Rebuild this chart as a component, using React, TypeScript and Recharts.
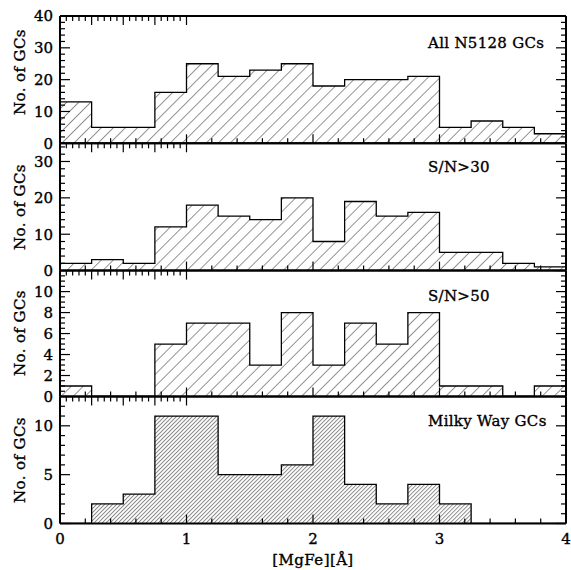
import React from 'react';
import { ComposedChart, Area, XAxis, YAxis } from 'recharts';

// Bin edges of [MgFe] (Å), bin width 0.25
const binEdges = [0, 0.25, 0.5, 0.75, 1, 1.25, 1.5, 1.75, 2, 2.25, 2.5, 2.75, 3, 3.25, 3.5, 3.75, 4];

// Counts per bin
const allN5128 = [13, 5, 5, 16, 25, 21, 23, 25, 18, 20, 20, 21, 5, 7, 5, 3];
const sn30 = [2, 3, 2, 12, 18, 15, 14, 20, 8, 19, 15, 16, 5, 5, 2, 1];
const sn50 = [1, 0, 0, 5, 7, 7, 3, 8, 3, 7, 5, 8, 1, 1, 0, 1];
const milkyWay = [0, 2, 3, 11, 11, 5, 5, 6, 11, 4, 2, 4, 2, 0, 0, 0];

const panelTitles = ['All N5128 GCs', 'S/N>30', 'S/N>50', 'Milky Way GCs'];

const xTicks = [0, 0.2, 0.4, 0.6, 0.8, 1, 1.2, 1.4, 1.6, 1.8, 2, 2.2, 2.4, 2.6, 2.8, 3, 3.2, 3.4, 3.6, 3.8, 4];
const yTicks1 = [0, 2, 4, 6, 8, 10, 12, 14, 16, 18, 20, 22, 24, 26, 28, 30, 32, 34, 36, 38, 40];
const yTicks2 = [0, 2, 4, 6, 8, 10, 12, 14, 16, 18, 20, 22, 24, 26, 28, 30, 32, 34];
const yTicks3 = [0, 0.5, 1, 1.5, 2, 2.5, 3, 3.5, 4, 4.5, 5, 5.5, 6, 6.5, 7, 7.5, 8, 8.5, 9, 9.5, 10, 10.5, 11, 11.5];
const yTicks4 = [0, 1, 2, 3, 4, 5, 6, 7, 8, 9, 10, 11, 12];

const W = 571;
const H = 570;
const PLOT_LEFT = 60;
const PLOT_RIGHT = 566;
const edgesY = [16, 143.3, 270.6, 396.5, 523.5];
const FONT = '"DejaVu Serif", serif';
const TEXT_STROKE = 0.35;

type Panel = {
  values: number[];
  max: number;
  yTicks: number[];
  major: number;
  labelMax: number;
  hatch: number;
  title: string;
};

const panels: Panel[] = [
  { values: allN5128, max: 40, yTicks: yTicks1, major: 10, labelMax: 40, hatch: 8.5, title: panelTitles[0] },
  { values: sn30, max: 35, yTicks: yTicks2, major: 10, labelMax: 30, hatch: 8.5, title: panelTitles[1] },
  { values: sn50, max: 12, yTicks: yTicks3, major: 2, labelMax: 10, hatch: 8.5, title: panelTitles[2] },
  { values: milkyWay, max: 13, yTicks: yTicks4, major: 5, labelMax: 10, hatch: 2.83, title: panelTitles[3] },
];

const isMajor = (v: number, step: number) => Math.abs(v / step - Math.round(v / step)) < 1e-6;

const makeXTick = (side: 'bottom' | 'top', showLabel: boolean) => (props: any) => {
  const { x, y, payload } = props;
  const v = payload.value as number;
  const major = isMajor(v, 1);
  const len = major ? 9 : 5;
  const dir = side === 'bottom' ? -1 : 1;
  return (
    <g>
      <line x1={x} y1={y} x2={x} y2={y + dir * len} stroke="#000" strokeWidth={1.2} />
      {showLabel && major && side === 'bottom' ? (
        <text
          x={x}
          y={y + 20}
          textAnchor="middle"
          fontFamily={FONT}
          fontSize={15}
          fill="#000"
          stroke="#000"
          strokeWidth={TEXT_STROKE}
        >
          {v}
        </text>
      ) : null}
    </g>
  );
};

const makeYTick = (side: 'left' | 'right', step: number, labelMax: number) => (props: any) => {
  const { x, y, payload } = props;
  const v = payload.value as number;
  const major = isMajor(v, step);
  const len = major ? 10 : 5;
  const dir = side === 'left' ? 1 : -1;
  return (
    <g>
      <line x1={x} y1={y} x2={x + dir * len} y2={y} stroke="#000" strokeWidth={1.2} />
      {side === 'left' && major && v <= labelMax ? (
        <text
          x={x - 7}
          y={y}
          dy="0.36em"
          textAnchor="end"
          fontFamily={FONT}
          fontSize={15}
          fill="#000"
          stroke="#000"
          strokeWidth={TEXT_STROKE}
        >
          {v}
        </text>
      ) : null}
    </g>
  );
};

const axisLine = { stroke: '#000', strokeWidth: 2 };

function HistPanel({ p, idx }: { p: Panel; idx: number }) {
  const top = edgesY[idx];
  const bottom = edgesY[idx + 1];
  const data = binEdges.map((x, i) => ({ x, v: p.values[Math.min(i, p.values.length - 1)] }));
  const isLast = idx === panels.length - 1;
  const hid = `hatch${idx}`;
  return (
    <div style={{ position: 'absolute', left: 0, top: 0 }}>
      <ComposedChart
        width={W}
        height={H}
        data={data}
        margin={{ top: top - 10, bottom: H - bottom - 10, left: 0, right: 0 }}
      >
        <defs>
          <pattern
            id={hid}
            patternUnits="userSpaceOnUse"
            width={p.hatch}
            height={p.hatch}
            patternTransform="rotate(45)"
          >
            <line x1={0} y1={0} x2={0} y2={p.hatch} stroke="#111" strokeWidth={0.9} />
          </pattern>
        </defs>
        <XAxis
          xAxisId="b"
          dataKey="x"
          type="number"
          domain={[0, 4]}
          ticks={xTicks}
          interval={0}
          orientation="bottom"
          height={10}
          tickSize={0}
          tickMargin={0}
          tickLine={false}
          axisLine={axisLine}
          tick={makeXTick('bottom', isLast)}
          allowDataOverflow
        />
        <XAxis
          xAxisId="t"
          type="number"
          domain={[0, 4]}
          ticks={xTicks}
          interval={0}
          orientation="top"
          height={10}
          tickSize={0}
          tickMargin={0}
          tickLine={false}
          axisLine={axisLine}
          tick={makeXTick('top', false)}
          allowDataOverflow
        />
        <YAxis
          yAxisId="l"
          type="number"
          domain={[0, p.max]}
          ticks={p.yTicks}
          interval={0}
          orientation="left"
          width={PLOT_LEFT}
          tickSize={0}
          tickMargin={0}
          tickLine={false}
          axisLine={axisLine}
          tick={makeYTick('left', p.major, p.labelMax)}
          allowDataOverflow
        />
        <YAxis
          yAxisId="r"
          type="number"
          domain={[0, p.max]}
          ticks={p.yTicks}
          interval={0}
          orientation="right"
          width={W - PLOT_RIGHT}
          tickSize={0}
          tickMargin={0}
          tickLine={false}
          axisLine={axisLine}
          tick={makeYTick('right', p.major, p.labelMax)}
          allowDataOverflow
        />
        <Area
          xAxisId="b"
          yAxisId="l"
          type="stepAfter"
          dataKey="v"
          stroke="#000"
          strokeWidth={1.3}
          fill={`url(#${hid})`}
          fillOpacity={1}
          dot={false}
          activeDot={false}
          isAnimationActive={false}
        />
      </ComposedChart>
    </div>
  );
}

export default function App() {
  const labelCenters = [72, 207, 333, 460];
  const titleBaselines = [48, 172, 301, 426];
  return (
    <div style={{ position: 'absolute', left: 0, top: 0, width: W, height: H, background: '#fff' }}>
      {panels.map((p, i) => (
        <HistPanel key={i} p={p} idx={i} />
      ))}
      <svg
        width={W}
        height={H}
        style={{ position: 'absolute', left: 0, top: 0, pointerEvents: 'none' }}
      >
        {labelCenters.map((cy, i) => (
          <text
            key={`yl${i}`}
            x={25}
            y={cy}
            transform={`rotate(-90, 25, ${cy})`}
            textAnchor="middle"
            fontFamily={FONT}
            fontSize={15}
            letterSpacing={0.4}
            fill="#000"
            stroke="#000"
            strokeWidth={TEXT_STROKE}
          >
            No. of GCs
          </text>
        ))}
        {panels.map((p, i) => (
          <text
            key={`t${i}`}
            x={428}
            y={titleBaselines[i]}
            fontFamily={FONT}
            fontSize={15}
            letterSpacing={0.3}
            fill="#000"
            stroke="#000"
            strokeWidth={TEXT_STROKE}
          >
            {p.title}
          </text>
        ))}
        <text
          x={313}
          y={565}
          textAnchor="middle"
          fontFamily={FONT}
          fontSize={15}
          letterSpacing={0.4}
          fill="#000"
          stroke="#000"
          strokeWidth={TEXT_STROKE}
        >
          [MgFe][Å]
        </text>
      </svg>
    </div>
  );
}
